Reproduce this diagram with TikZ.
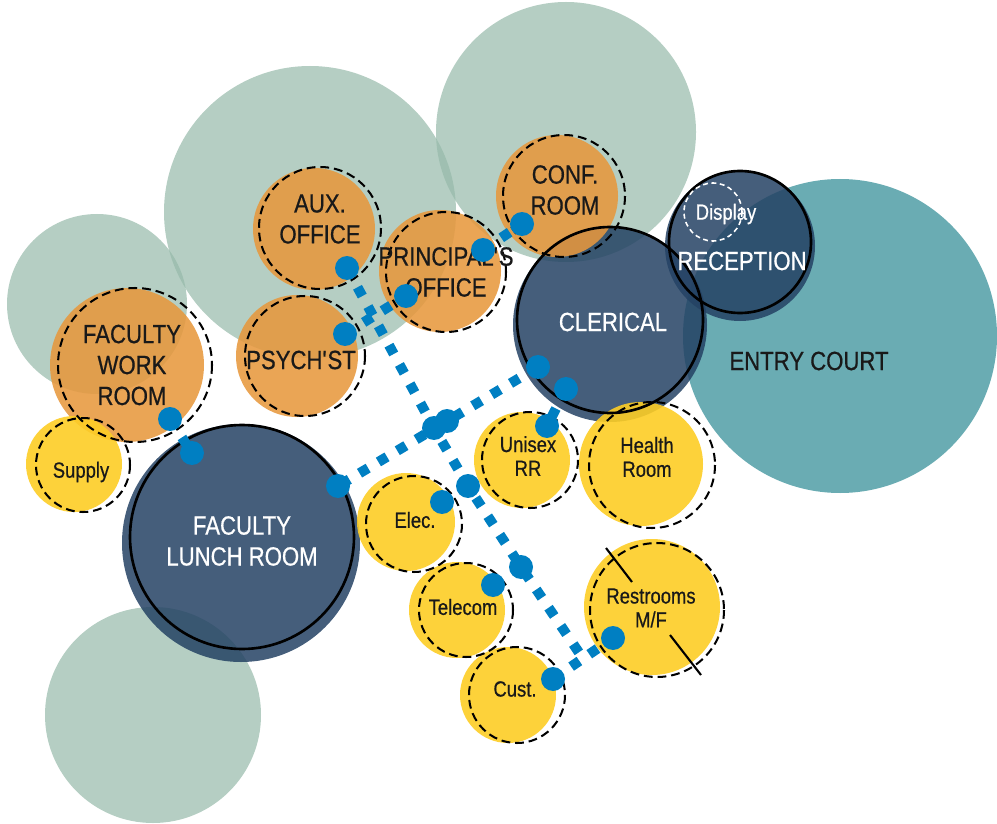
\documentclass[tikz,border=0pt]{standalone}
\usepackage{fontspec}
\setmainfont[FakeStretch=0.84,FakeBold=0.6]{Liberation Sans}
\usetikzlibrary{calc}

\definecolor{sage}{HTML}{95B9A9}
\definecolor{court}{HTML}{6AACB3}
\definecolor{navy}{HTML}{244264}
\definecolor{ochre}{HTML}{E7983E}
\definecolor{sun}{HTML}{FDCD25}
\definecolor{link}{RGB}{0,127,194}

\tikzset{
  zone/.style={fill=sage,fill opacity=0.7},
  navyfill/.style={fill=navy,fill opacity=0.85},
  ochrefill/.style={fill=ochre,fill opacity=0.88},
  sunfill/.style={fill=sun,fill opacity=0.9},
  ring/.style={black,line width=1.5pt},
  dashring/.style={black,line width=1.15pt,dash pattern=on 5pt off 2.8pt},
  biglabel/.style={align=center,inner sep=0pt,text=black!90,font=\fontsize{15}{17.6}\selectfont},
  smalllabel/.style={align=center,inner sep=0pt,text=black!90,font=\fontsize{12.5}{13.6}\selectfont},
  hub/.style={circle,fill=link,inner sep=0pt,minimum size=0.48cm},
  corridor/.style={link,line width=5.7pt,dash pattern=on 5.7pt off 6.8pt}
}

\begin{document}
\begin{tikzpicture}[x=0.02cm,y=-0.02cm]
  \useasboundingbox (0,0) rectangle (997,824);
  % site zones
  \foreach \x/\y/\r in {310/212/146, 566/132/130, 97/304/90, 153/715/108}
    \fill[zone] (\x,\y) circle (\r);
  \fill[court] (840,336) circle (157);

  % main rooms
  \fill[navyfill] (241,543) circle (119);
  \fill[navyfill] (610,325) circle (97);
  \fill[navyfill] (740,246) circle (75);

  % offices and support rooms
  \foreach \x/\y/\r in {127/365/77, 314/229/61, 297/356/61, 440/271/61, 557/196/61}
    \fill[ochrefill] (\x,\y) circle (\r);
  \foreach \x/\y/\r in {74/464/48, 522/460/48, 641/464/62, 406/522/49, 457/610/48, 652/607/68, 508/695/48}
    \fill[sunfill] (\x,\y) circle (\r);

  \draw[ring] (242,537) circle (112);
  \draw[ring] (610,320) circle (93);
  \draw[ring] (740,242) circle (71);
  \foreach \x/\y/\r in {135/365/77, 320/228/61, 305/356/60, 446/272/60, 564/196/61,
      83/465/47, 530/460/48, 652/465/63, 414/524/48, 466/610/47, 657/610/67, 517/695/48}
    \draw[dashring] (\x,\y) circle (\r);
  \draw[white,line width=0.9pt,dash pattern=on 2.8pt off 2pt] (713,212) circle (29);
  \draw[line width=1.2pt] (606,548) -- (632,582) (670,635) -- (701,675);

  \node[biglabel] (court) at (809,361) {ENTRY COURT};
  \node[biglabel,text=white] (clerical) at (613,322) {CLERICAL};
  \node[biglabel,text=white] (reception) at (742,261) {RECEPTION};
  \node[smalllabel,text=white] (display) at (726,214) {Display};
  \node[biglabel,text=white] (lunch) at (242,541) {FACULTY\\LUNCH ROOM};
  \node[biglabel] (work) at (132,365) {FACULTY\\WORK\\ROOM};
  \node[biglabel] (aux) at (320,219) {AUX.\\OFFICE};
  \node[biglabel] (psych) at (301,360) {PSYCH\textquotesingle ST};
  \node[biglabel] (principal) at (446,272) {PRINCIPAL\textquotesingle S\\OFFICE};
  \node[biglabel] (conf) at (565,190) {CONF.\\ROOM};
  \node[smalllabel] (supply) at (81,472) {Supply};
  \node[smalllabel] (unisex) at (528,456) {Unisex\\RR};
  \node[smalllabel] (health) at (647,457) {Health\\Room};
  \node[smalllabel] (elec) at (415,520) {Elec.};
  \node[smalllabel] (telecom) at (463,607) {Telecom};
  \node[smalllabel] (restrooms) at (651,608) {Restrooms\\M/F};
  \node[smalllabel] (cust) at (515,689) {Cust.};

  % access points
  \coordinate (workd) at (170,419);
  \coordinate (lunchd) at (192,453);
  \coordinate (lunche) at (338,486);
  \coordinate (auxd) at (347,268);
  \coordinate (psychd) at (345,334);
  \coordinate (principald) at (406,296);
  \coordinate (principale) at (483,250);
  \coordinate (confd) at (522,224);
  \coordinate (clericald) at (538,367);
  \coordinate (clericale) at (566,389);
  \coordinate (unisexd) at (547,426);
  \coordinate (halla) at (434,428);
  \coordinate (hallb) at (447,421);
  \coordinate (hallc) at (468,486);
  \coordinate (hallf) at (521,567);
  \coordinate (elecd) at (442,502);
  \coordinate (telecomd) at (493,585);
  \coordinate (custd) at (553,679);
  \coordinate (restd) at (613,638);
  \coordinate (halle) at ($(custd)!0.5!(restd)$);

  \draw[corridor] (workd) -- (lunchd);
  \draw[corridor] (psychd) -- (principald);
  \draw[corridor] (principale) -- (confd);
  \draw[corridor] (clericald) -- (lunche);
  \draw[corridor] (clericale) -- (unisexd);
  \draw[corridor] (auxd) -- (halla) -- (hallc) -- (hallf) -- (halle);
  \draw[corridor] (custd) -- (restd);

  \foreach \p in {workd,lunchd,lunche,auxd,psychd,principald,principale,confd,clericald,
      clericale,unisexd,halla,hallb,hallc,hallf,elecd,telecomd,custd,restd}
    \node[hub] at (\p) {};
\end{tikzpicture}
\end{document}
